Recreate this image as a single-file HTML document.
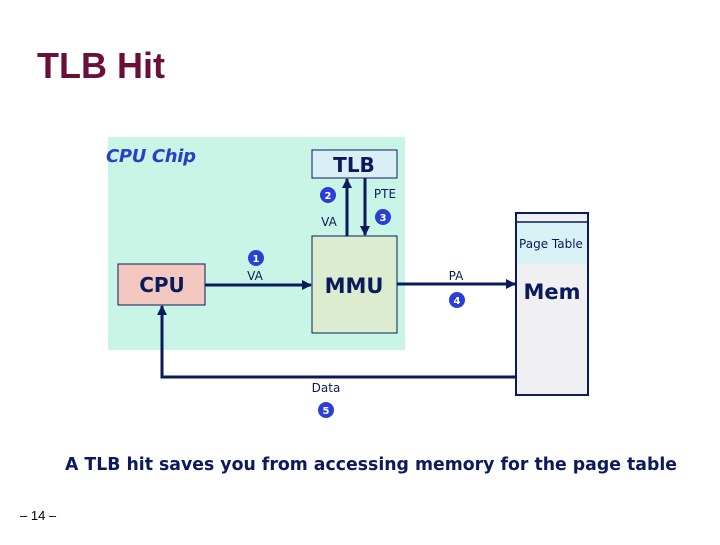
<!DOCTYPE html>
<html><head><style>
body{margin:0;width:720px;height:540px;background:#fff;overflow:hidden;font-family:"Liberation Sans",sans-serif;}
</style></head><body>
<svg width="720" height="540" xmlns="http://www.w3.org/2000/svg" font-family="'DejaVu Sans','Liberation Sans',sans-serif">
<defs><marker id="a" markerWidth="10" markerHeight="10" refX="9" refY="5" orient="auto" markerUnits="userSpaceOnUse"><path d="M0,0 L10,5 L0,10z" fill="#0a1a5c"/></marker></defs>
<text x="37" y="78" font-family="'Liberation Sans',sans-serif" font-size="36" font-weight="bold" fill="#6b0f3a">TLB Hit</text>
<rect x="108" y="137" width="297" height="213" fill="#c8f5e6"/>
<text x="106" y="162" font-size="18" font-style="italic" font-weight="bold" fill="#2a3fc8" textLength="90">CPU Chip</text>
<rect x="312" y="150" width="85" height="28" fill="#d8f0f5" stroke="#0a1a5c" stroke-width="1"/>
<text x="354" y="172" font-size="20" font-weight="bold" text-anchor="middle" fill="#0a1a5c">TLB</text>
<rect x="312" y="236" width="85" height="97" fill="#dbeccf" stroke="#0a1a5c" stroke-width="1"/>
<text x="354" y="293" font-size="21" font-weight="bold" text-anchor="middle" fill="#0a1a5c">MMU</text>
<rect x="118" y="264" width="87" height="41" fill="#f2c8c0" stroke="#0a1a5c" stroke-width="1"/>
<text x="162" y="292" font-size="20" font-weight="bold" text-anchor="middle" fill="#0a1a5c">CPU</text>
<rect x="516" y="213" width="72" height="182" fill="#f0f0f2" stroke="#0a1a5c" stroke-width="2"/>
<rect x="517" y="222" width="70" height="42" fill="#d8f2f5"/>
<line x1="516" y1="222" x2="588" y2="222" stroke="#0a1a5c" stroke-width="1.5"/>
<text x="551" y="248" font-size="12" text-anchor="middle" fill="#0a1a5c">Page Table</text>
<text x="552" y="299" font-size="21" font-weight="bold" text-anchor="middle" fill="#0a1a5c">Mem</text>
<g stroke="#0a1a5c" stroke-width="3" fill="none">
<line x1="205" y1="285" x2="311" y2="285" marker-end="url(#a)"/>
<line x1="347" y1="236" x2="347" y2="179" marker-end="url(#a)"/>
<line x1="365" y1="178" x2="365" y2="235" marker-end="url(#a)"/>
<line x1="397" y1="284" x2="515" y2="284" marker-end="url(#a)"/>
<polyline points="516,377 162,377 162,306" marker-end="url(#a)"/>
</g>
<g fill="#2a3fd8">
<circle cx="256" cy="258" r="8"/><circle cx="328" cy="195" r="8"/><circle cx="383" cy="217" r="8"/><circle cx="457" cy="300" r="8"/><circle cx="326" cy="410" r="8"/>
</g>
<g fill="#fff" font-size="10" text-anchor="middle" font-weight="bold">
<text x="256" y="262">1</text><text x="328" y="199">2</text><text x="383" y="221">3</text><text x="457" y="304">4</text><text x="326" y="414">5</text>
</g>
<g fill="#0a1a5c" font-size="12" text-anchor="middle">
<text x="255" y="280">VA</text><text x="329" y="226">VA</text><text x="385" y="198">PTE</text><text x="456" y="280">PA</text><text x="326" y="392">Data</text>
</g>
<text x="371" y="470" font-size="18" font-weight="bold" text-anchor="middle" fill="#0a1a5c" textLength="612" lengthAdjust="spacingAndGlyphs">A TLB hit saves you from accessing memory for the page table</text>
<text x="20" y="520" font-family="'Liberation Sans',sans-serif" font-size="13" fill="#000">– 14 –</text>
</svg>
</body></html>
